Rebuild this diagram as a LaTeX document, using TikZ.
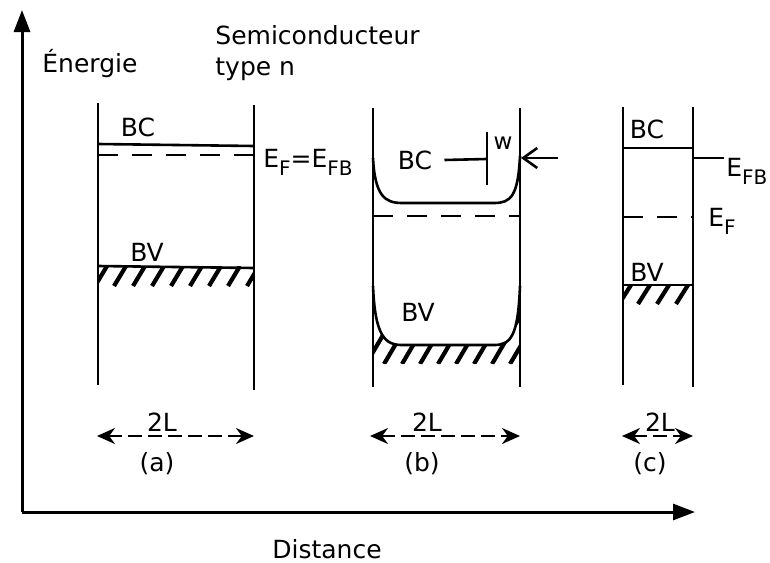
\documentclass[tikz,border=0pt]{standalone}
\usepackage{fontspec}
\setmainfont{DejaVu Sans}
\usetikzlibrary{arrows.meta,positioning}
\newcommand{\bandsub}[1]{\raisebox{-0.6ex}{\fontsize{10}{12}\selectfont #1}}
\tikzset{
  wall/.style={line width=1.3pt},
  band/.style={line width=1.3pt},
  fermi/.style={line width=1.3pt, dash pattern=on 10pt off 7pt},
  hatch/.style={line width=2.1pt},
  dimarrow/.style={line width=1.1pt, dash pattern=on 7pt off 3pt,
    {Stealth[length=9pt,width=8pt]}-{Stealth[length=9pt,width=8pt]}},
  axis/.style={line width=1.5pt, -{Triangle[length=11pt,width=8pt]}},
  lbl/.style={inner sep=1pt, font=\fontsize{12.5}{15}\selectfont},
}
\begin{document}
\begin{tikzpicture}[x=0.5pt,y=-0.5pt]
        \useasboundingbox (0,0) rectangle (770,562);
        %Axis
        \coordinate (O) at (22,512);
        \coordinate (yTip) at (22,10);
        \coordinate (xTip) at (695,512);
        \draw[axis] (O) -- (yTip);
        \draw[axis] (O) -- (xTip);
        \node[lbl, anchor=base west] (energy) at (40,72) {Énergie};
        \node[lbl, anchor=base] (dist) at (327,558) {Distance};
        \node[lbl, anchor=base west] (title) at (213,44) {Semiconducteur};
        \node[lbl, anchor=base west] (titleb) at (213,75) {type n};
        % Panel (a)
        \draw[wall] (98,103) -- (98,385);
        \draw[wall] (254,105) -- (254,390);
        \draw[band] (98,144) -- (254,146);
        \draw[fermi] (98,155) -- (254,155);
        \draw[band] (98,266) -- (254,268);
        \begin{scope}
          \clip (98,266) rectangle (254,286);
          \foreach \x in {95,114,...,255} \draw[hatch] (\x,286) -- ++(12,-20);
        \end{scope}
        \node[lbl] (aBC) at (138,127) {BC};
        \node[lbl] (aBV) at (147,252) {BV};
        \node[lbl, anchor=base west] (aEF) at (261,167) {E\bandsub{F}=E\bandsub{FB}};
        % Panel (b)
        \draw[wall] (373,108) -- (373,387);
        \draw[wall] (520,108) -- (520,387);
        \draw[band] (373,158) .. controls (375,196) and (385,203) .. (402,203)
          -- (494,203) .. controls (511,203) and (518,196) .. (520,156);
        \draw[fermi] (373,216) -- (520,216);
        \draw[band] (373,286) .. controls (375,336) and (385,345) .. (402,345)
          -- (494,345) .. controls (511,345) and (518,336) .. (520,286);
        \begin{scope}
          \clip (373,286) .. controls (375,336) and (385,345) .. (402,345)
            -- (494,345) .. controls (511,345) and (518,336) .. (520,286)
            -- (520,364) -- (373,364) -- cycle;
          \foreach \x in {366,384,...,530} \draw[hatch] (\x,364) -- ++(40,-68);
        \end{scope}
        \node[lbl] (bBC) at (415,160) {BC};
        \node[lbl] (bBV) at (418,312) {BV};
        \coordinate (wTick) at (487,159);
        \draw[band] ([xshift=5pt]bBC.east) -- (wTick);
        \draw[band] (487,132) -- (487,185);
        \node[lbl, font=\fontsize{11.5}{13}\selectfont] (wLab) at (503,143) {w};
        \coordinate (wStart) at (558,158);
        \coordinate (wEnd) at (521,158);
        \draw[line width=1.3pt, -{Straight Barb[length=7pt,width=10pt]}] (wStart) -- (wEnd);
        % Panel (c)
        \draw[wall] (623,107) -- (623,385);
        \draw[wall] (693,107) -- (693,387);
        \draw[band] (623,148) -- (693,148);
        \draw[fermi] (623,217) -- (693,217);
        \draw[band] (623,285) -- (693,285);
        \begin{scope}
          \clip (623,285) rectangle (693,304);
          \foreach \x in {619,638,...,695} \draw[hatch] (\x,304) -- ++(12,-19);
        \end{scope}
        \node[lbl] (cBC) at (647,129) {BC};
        \node[lbl] (cBV) at (647,272) {BV};
        \coordinate (cTick) at (693,158);
        \node[lbl, anchor=base west] (cEFB) at (724,176) {E\bandsub{FB}};
        \draw[band] (cTick) -- (cEFB.west |- cTick);
        \node[lbl, anchor=base west] (cEF) at (706,226) {E\bandsub{F}};
        % Widths
        \coordinate (aL) at (97,436);
        \coordinate (aR) at (254,436);
        \coordinate (bL) at (370,436);
        \coordinate (bR) at (520,436);
        \coordinate (cL) at (622,436);
        \coordinate (cR) at (693,436);
        \draw[dimarrow] (aL) -- (aR);
        \draw[dimarrow] (bL) -- (bR);
        \draw[dimarrow] (cL) -- (cR);
        \node[lbl, anchor=base] (aLen) at (162,431) {2L};
        \node[lbl, anchor=base] (bLen) at (427,431) {2L};
        \node[lbl, anchor=base] (cLen) at (660,431) {2L};
        \node[lbl] (aName) at (157,464) {(a)};
        \node[lbl] (bName) at (422,464) {(b)};
        \node[lbl] (cName) at (650,464) {(c)};
      \end{tikzpicture}
\end{document}
